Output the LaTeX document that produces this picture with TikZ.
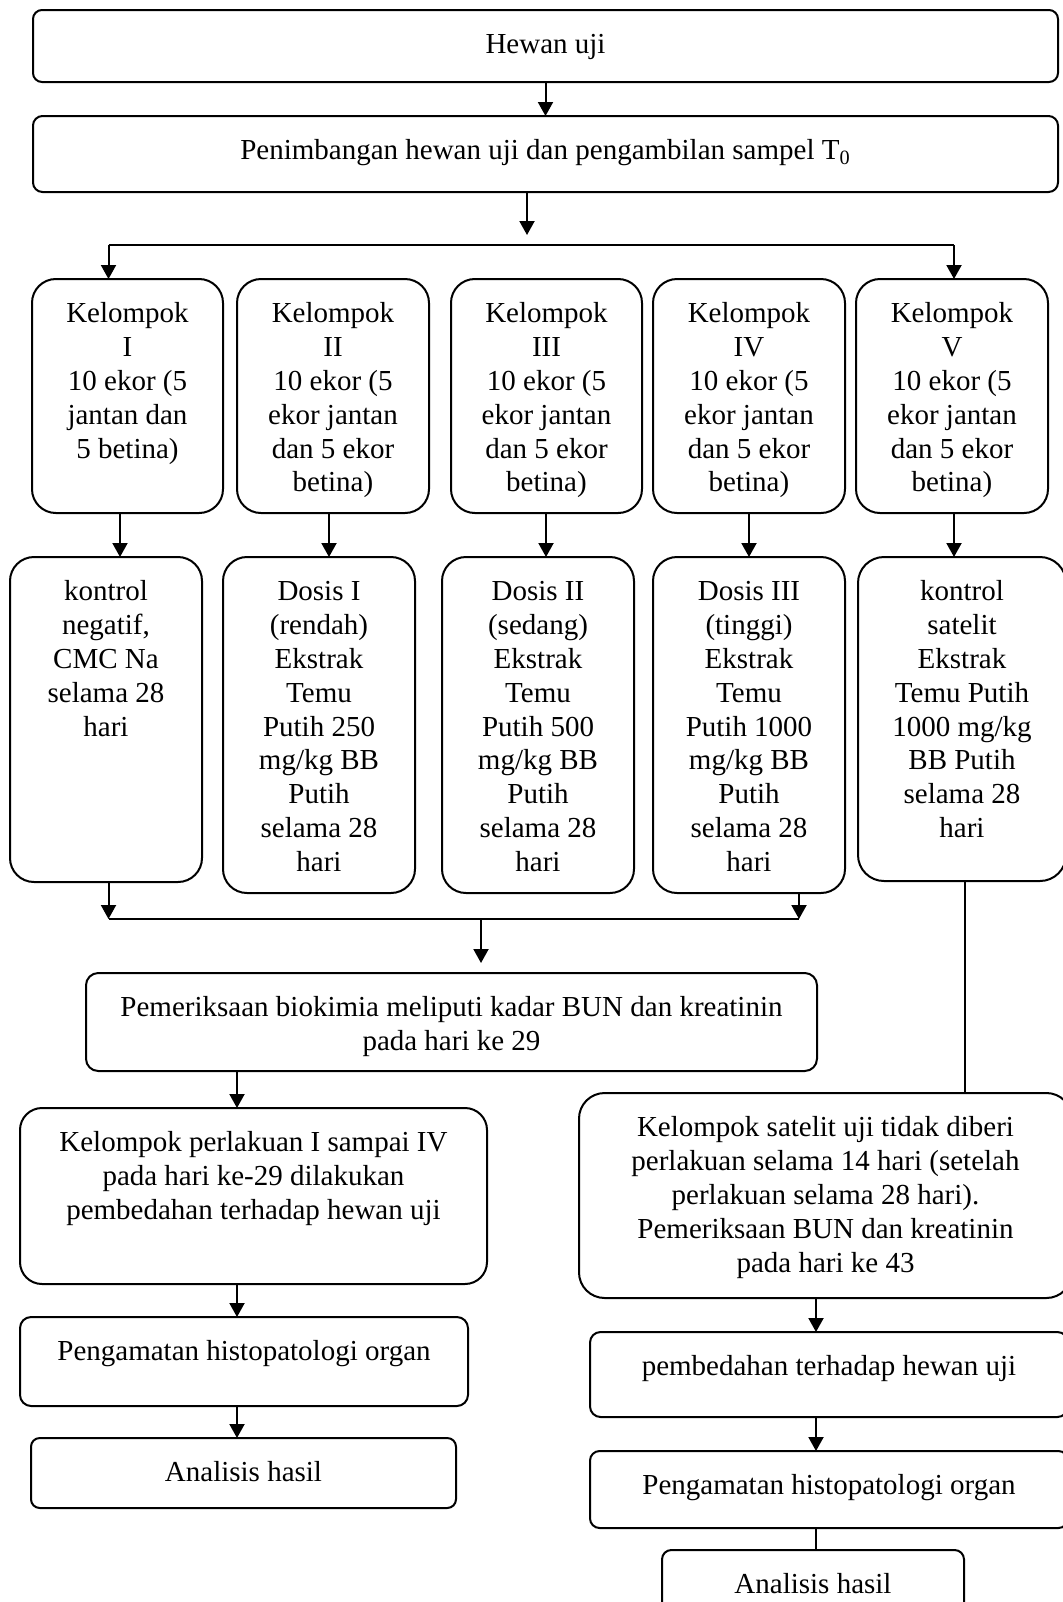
\documentclass[tikz,border=0pt]{standalone}
\usepackage{fontspec}
\setmainfont{Liberation Serif}
\usetikzlibrary{arrows.meta}
\tikzset{
  box/.style={draw, line width=1pt, inner sep=0pt, outer sep=0pt},
  arr/.style={line width=1pt, -{Triangle[length=7pt,width=7.5pt]}},
  ln/.style={line width=1pt},
  thinln/.style={line width=0.6pt},
}
\newcommand\bx[6]{%
  \pgfmathsetlengthmacro\bw{(#4-#2)*0.5pt}%
  \pgfmathsetlengthmacro\bh{(#5-#3)*0.5pt}%
  \pgfmathsetlengthmacro\br{0.125*min(#4-#2,#5-#3)*0.5pt}%
  \node[box, rounded corners=\br, minimum width=\bw, minimum height=\bh] (#1) at ({(#2+#4)/2},{(#3+#5)/2})
  {\begin{minipage}[c][\bh][t]{\bw}\centering\fontsize{14.5pt}{16.9pt}\selectfont\vspace*{10.1pt}\strut #6\strut\end{minipage}};%
}
\begin{document}
\begin{tikzpicture}[x=0.5pt,y=-0.5pt]
\useasboundingbox (0,0) rectangle (1063,1602);
\bx{hewan}{33}{10}{1058}{82}{Hewan uji}
\bx{timbang}{33}{116}{1058}{192}{Penimbangan hewan uji dan pengambilan sampel T\textsubscript{0}}
% row 1
\bx{k1}{32}{279}{223}{513}{Kelompok\\I\\10 ekor (5\\jantan dan\\5 betina)}
\bx{k2}{237}{279}{429}{513}{Kelompok\\II\\10 ekor (5\\ekor jantan\\dan 5 ekor\\betina)}
\bx{k3}{451}{279}{642}{513}{Kelompok\\III\\10 ekor (5\\ekor jantan\\dan 5 ekor\\betina)}
\bx{k4}{653}{279}{845}{513}{Kelompok\\IV\\10 ekor (5\\ekor jantan\\dan 5 ekor\\betina)}
\bx{k5}{856}{279}{1048}{513}{Kelompok\\V\\10 ekor (5\\ekor jantan\\dan 5 ekor\\betina)}
% row 2
\bx{d1}{10}{557}{202}{882}{kontrol\\negatif,\\CMC Na\\selama 28\\hari}
\bx{d2}{223}{557}{415}{893}{Dosis I\\(rendah)\\Ekstrak\\Temu\\Putih 250\\mg/kg BB\\Putih\\selama 28\\hari}
\bx{d3}{442}{557}{634}{893}{Dosis II\\(sedang)\\Ekstrak\\Temu\\Putih 500\\mg/kg BB\\Putih\\selama 28\\hari}
\bx{d4}{653}{557}{845}{893}{Dosis III\\(tinggi)\\Ekstrak\\Temu\\Putih 1000\\mg/kg BB\\Putih\\selama 28\\hari}
\bx{d5}{858}{557}{1066}{881}{kontrol\\satelit\\Ekstrak\\Temu Putih\\1000 mg/kg\\BB Putih\\selama 28\\hari}
% lower
\bx{periksa}{86}{973}{817}{1071}{Pemeriksaan biokimia meliputi kadar BUN dan kreatinin\\pada hari ke 29}
\bx{perlakuan}{20}{1108}{487}{1284}{Kelompok perlakuan I sampai IV\\pada hari ke-29 dilakukan\\pembedahan terhadap hewan uji}
\bx{amatL}{20}{1317}{468}{1406}{Pengamatan histopatologi organ}
\bx{hasilL}{31}{1438}{456}{1508}{Analisis hasil}
\bx{satelit}{579}{1093}{1072}{1298}{Kelompok satelit uji tidak diberi\\perlakuan selama 14 hari (setelah\\perlakuan selama 28 hari).\\Pemeriksaan BUN dan kreatinin\\pada hari ke 43}
\bx{bedah}{590}{1332}{1068}{1417}{pembedahan terhadap hewan uji}
\bx{amatR}{590}{1451}{1068}{1528}{Pengamatan histopatologi organ}
\bx{hasilR}{662}{1550}{964}{1625}{Analisis hasil}
% coordinates
\coordinate (j0) at (527,245);
\coordinate (jL) at (108.5,245);
\coordinate (jR) at (954,245);
\coordinate (c1) at (120,0);
\coordinate (c2) at (329,0);
\coordinate (c3) at (546,0);
\coordinate (c4) at (749,0);
\coordinate (c5) at (954,0);
\coordinate (m1) at (108.5,919);
\coordinate (m4) at (799,919);
\coordinate (m0) at (481,919);
\coordinate (c6) at (965,0);
\coordinate (c7) at (237,0);
\coordinate (c8) at (816,0);
% connectors
\draw[arr] (hewan.south) -- (timbang.north);
\draw[arr, shorten >=5pt] (timbang.south -| j0) -- (j0);
\draw[ln] (jL) -- (jR);
\draw[arr] (jL) -- (k1.north -| jL);
\draw[arr] (jR) -- (k5.north -| jR);
\draw[arr] (k1.south -| c1) -- (d1.north -| c1);
\draw[arr] (k2.south -| c2) -- (d2.north -| c2);
\draw[arr] (k3.south -| c3) -- (d3.north -| c3);
\draw[arr] (k4.south -| c4) -- (d4.north -| c4);
\draw[arr] (k5.south -| c5) -- (d5.north -| c5);
\draw[arr] (d1.south -| m1) -- (m1);
\draw[arr] (d4.south -| m4) -- (m4);
\draw[ln] (m1) -- (m4);
\draw[arr, shorten >=5pt] (m0) -- (periksa.north -| m0);
\draw[ln] (d5.south -| c6) -- (satelit.north -| c6);
\draw[arr] (periksa.south -| c7) -- (perlakuan.north -| c7);
\draw[arr] (perlakuan.south -| c7) -- (amatL.north -| c7);
\draw[arr] (amatL.south -| c7) -- (hasilL.north -| c7);
\draw[arr] (satelit.south -| c8) -- (bedah.north -| c8);
\draw[arr] (bedah.south -| c8) -- (amatR.north -| c8);
\draw[thinln] (amatR.south -| c8) -- (hasilR.north -| c8);
\end{tikzpicture}
\end{document}
